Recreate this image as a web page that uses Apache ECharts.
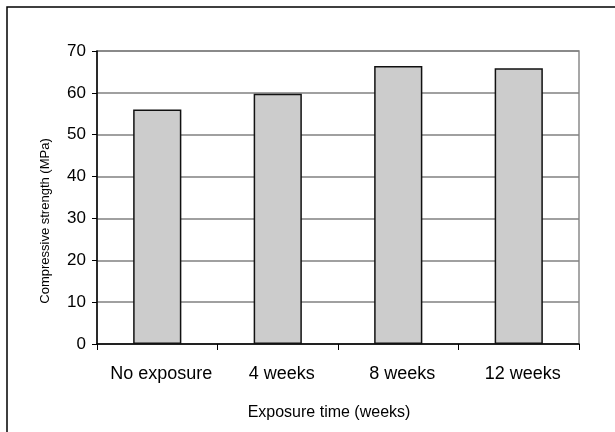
<!DOCTYPE html>
<html>
<head>
<meta charset="utf-8">
<script src="https://cdn.jsdelivr.net/npm/echarts@6/dist/echarts.min.js"></script>
<style>
html,body{margin:0;padding:0;background:#fff;}
#chart{width:615px;height:432px;}
</style>
</head>
<body>
<div id="chart"></div>
<script>
var categories = ['No exposure', '4 weeks', '8 weeks', '12 weeks'];
var strengthValues = [56.0, 59.8, 66.4, 65.9];
var yTitle = 'Compressive strength (MPa)';
var xTitle = 'Exposure time (weeks)';

var chart = echarts.init(document.getElementById('chart'), null, {renderer: 'canvas'});
var font = '"Liberation Sans", Arial, sans-serif';
chart.setOption({
  animation: false,
  backgroundColor: '#ffffff',
  grid: {
    left: 97, right: 36, top: 51, bottom: 88,
    show: true, borderColor: '#8a8a8a', borderWidth: 1.5, backgroundColor: 'transparent'
  },
  xAxis: {
    type: 'category',
    data: categories,
    axisLine: {show: true, lineStyle: {color: '#000', width: 1.5}},
    axisTick: {show: true, interval: 0, alignWithLabel: false, length: 6, lineStyle: {color: '#000', width: 1}},
    axisLabel: {interval: 0, color: '#000', fontSize: 18, fontFamily: font, margin: 21, padding: [0, 0, 0, 8]}
  },
  yAxis: {
    type: 'value',
    min: 0, max: 70, interval: 10,
    axisLine: {show: true, lineStyle: {color: '#000', width: 1.5}},
    axisTick: {show: true, inside: false, length: 5, lineStyle: {color: '#000', width: 1}},
    axisLabel: {color: '#000', fontSize: 17, fontFamily: font, margin: 11},
    splitLine: {show: true, lineStyle: {color: '#808080', width: 1.5}}
  },
  series: [{
    type: 'bar',
    data: strengthValues,
    barWidth: '40%',
    itemStyle: {color: '#cccccc', borderColor: '#111', borderWidth: 1.5}
  }],
  graphic: [
    {type: 'rect', shape: {x: 7, y: 7, width: 700, height: 500}, style: {fill: 'none', stroke: '#000', lineWidth: 1.5}, silent: true},
    {type: 'text', x: 329, y: 413, style: {text: xTitle, fill: '#000', font: '16px ' + font, textAlign: 'center', textVerticalAlign: 'middle'}},
    {type: 'text', x: 45, y: 221, rotation: Math.PI / 2, style: {text: yTitle, fill: '#000', font: '13px ' + font, textAlign: 'center', textVerticalAlign: 'middle'}}
  ]
});
</script>
</body>
</html>
